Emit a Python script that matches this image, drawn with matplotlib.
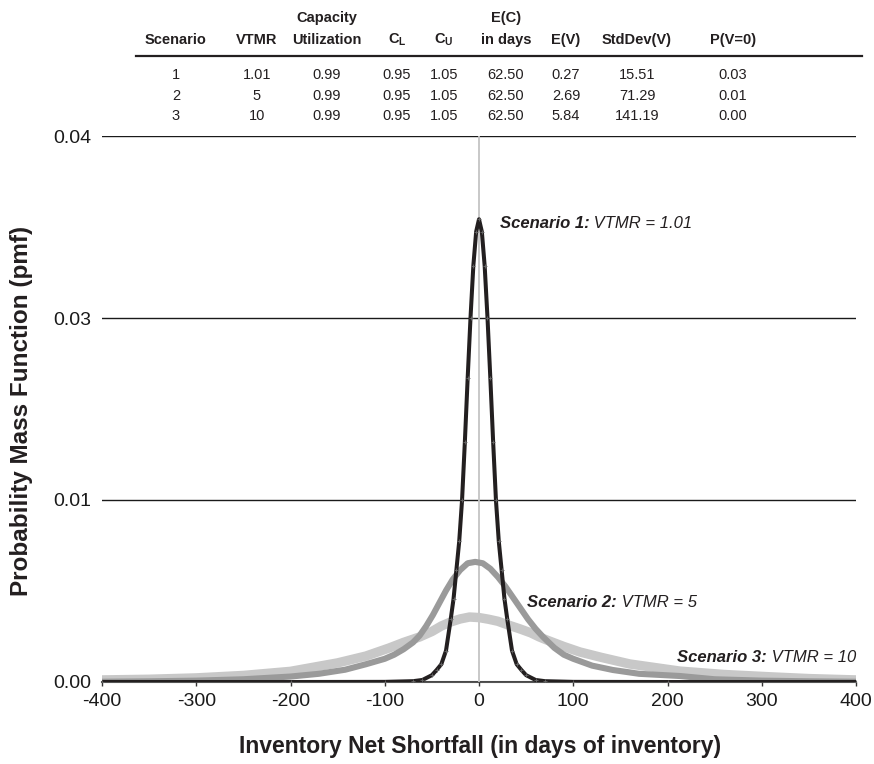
import matplotlib
matplotlib.use("Agg")
import matplotlib.pyplot as plt

plt.rcParams['font.family'] = ['Liberation Sans', 'DejaVu Sans']
plt.rcParams['mathtext.fontset'] = 'custom'
plt.rcParams['mathtext.rm'] = 'Liberation Sans'
plt.rcParams['mathtext.bf'] = 'Liberation Sans:bold'
plt.rcParams['axes.unicode_minus'] = False

# table above the chart
scenario = ['1', '2', '3']
vtmr = ['1.01', '5', '10']
utilization = ['0.99', '0.99', '0.99']
c_low = ['0.95', '0.95', '0.95']
c_up = ['1.05', '1.05', '1.05']
ec_days = ['62.50', '62.50', '62.50']
ev = ['0.27', '2.69', '5.84']
stdv = ['15.51', '71.29', '141.19']
pv0 = ['0.03', '0.01', '0.00']

# pmf curves (x in days, y = pmf)
x1 = [-400, -200, -100, -70, -60, -50, -45, -40, -35, -30, -27, -24, -21, -18, -15,
      -12, -9, -6, -3, 0, 3, 6, 9, 12, 15, 18, 21, 24, 27, 30, 35, 40, 45, 50, 60,
      70, 100, 200, 400]
y1 = [0.0, 0.0, 0.00001, 0.00006, 0.00015, 0.0005, 0.00088, 0.0013, 0.0023, 0.0046,
      0.0061, 0.0082, 0.0103, 0.0133, 0.0176, 0.0223, 0.0267, 0.0305, 0.0330, 0.0339,
      0.0330, 0.0305, 0.0267, 0.0223, 0.0176, 0.0133, 0.0103, 0.0082, 0.0061, 0.0046,
      0.0023, 0.0013, 0.00088, 0.0005, 0.00015, 0.00006, 0.00001, 0.0, 0.0]

x2 = [-400, -350, -300, -250, -200, -170, -142, -120, -100, -90, -80, -70, -63, -56,
      -49, -42, -35, -28, -20, -12, -4, 4, 12, 20, 28, 36, 44, 52, 60, 68, 80, 90,
      100, 120, 142, 170, 213, 250, 300, 350, 400]
y2 = [0.00002, 0.00005, 0.0001, 0.0002, 0.0004, 0.0006, 0.0009, 0.0013, 0.0017,
      0.0020, 0.0024, 0.0029, 0.0034, 0.0041, 0.0049, 0.0058, 0.0067, 0.0075, 0.0082,
      0.0087, 0.0088, 0.0087, 0.0083, 0.0077, 0.0070, 0.0062, 0.0054, 0.0046, 0.0039,
      0.0033, 0.0025, 0.0020, 0.0017, 0.0012, 0.00088, 0.0006, 0.00044, 0.0002,
      0.0001, 0.00005, 0.00002]

x3 = [-400, -350, -300, -250, -200, -150, -120, -95, -80, -63, -50, -40, -30, -20,
      -10, 0, 10, 20, 30, 43, 55, 64, 71, 90, 107, 130, 160, 213, 260, 309, 350, 400]
y3 = [0.00015, 0.0002, 0.0003, 0.00048, 0.00078, 0.0014, 0.0019, 0.0025, 0.0029,
      0.0033, 0.0037, 0.0041, 0.0044, 0.00462, 0.00476, 0.00472, 0.0046, 0.00445,
      0.0042, 0.0039, 0.0036, 0.0033, 0.0031, 0.0026, 0.0022, 0.0018, 0.00132,
      0.0008, 0.00055, 0.00038, 0.00025, 0.00015]

W, H = 874, 764
fig = plt.figure(figsize=(W / 100, H / 100), dpi=100)
ax = fig.add_axes([102 / W, 82 / H, 754 / W, 546 / H])

ax.axvline(0, color='#c4c4c4', lw=1.3, zorder=1)
ax.plot(x3, y3, color='#c8c8c8', lw=6.8, solid_capstyle='butt',
        solid_joinstyle='round', zorder=2)
ax.plot(x2, y2, color='#9a9a9a', lw=4.4, solid_capstyle='butt',
        solid_joinstyle='round', zorder=3)
ax.plot(x1, y1, color='#231f20', lw=2.9, solid_capstyle='butt',
        solid_joinstyle='round', zorder=4,
        marker='+', ms=2.5, mew=0.6, mec='#666666')

ax.set_xlim(-400, 400)
ax.set_ylim(0, 0.04)
ax.set_xticks(range(-400, 401, 100))
ax.set_yticks([0, 0.04 / 3, 0.08 / 3, 0.04])
ax.set_yticklabels(['0.00', '0.01', '0.03', '0.04'])
ax.yaxis.grid(True, color='#1a1a1a', lw=1.0)
ax.set_axisbelow(True)
for s in ['left', 'top', 'right']:
    ax.spines[s].set_visible(False)
ax.spines['bottom'].set_color('#555555')
ax.spines['bottom'].set_linewidth(1.5)
ax.spines['bottom'].set_zorder(0.5)
ax.tick_params(axis='y', length=0, pad=8, labelsize=14, labelcolor='#1a1a1a')
ax.tick_params(axis='x', length=3, width=1, color='#333333', direction='out',
               pad=5, labelsize=14, labelcolor='#1a1a1a')

# curve labels
def label(x, y, head, tail):
    t = ax.text(x, y, head, fontsize=12, fontweight='bold', style='italic',
                color='#231f20', va='center', ha='left')
    ax.annotate(tail, xy=(1, 0.5), xycoords=t, fontsize=12, style='italic',
                color='#231f20', va='center', ha='left')

label(22, 0.0336, 'Scenario 1:', ' VTMR = 1.01')
label(51, 0.0058, 'Scenario 2:', ' VTMR = 5')
label(210, 0.00183, 'Scenario 3:', ' VTMR = 10')

fig.text(480 / W, 1 - 747 / H, 'Inventory Net Shortfall (in days of inventory)',
         fontsize=16.5, fontweight='bold', color='#231f20', ha='center', va='center')
fig.text(22 / W, 1 - 411 / H, 'Probability Mass Function (pmf)', rotation=90,
         fontsize=17.5, fontweight='bold', color='#231f20', ha='center', va='center')

# table
col_x = [176, 257, 327, 397, 444, 506, 566, 637, 733]
head1 = ['', '', 'Capacity', '', '', 'E(C)', '', '', '']
head2 = ['Scenario', 'VTMR', 'Utilization', r'C$_\mathregular{L}$', r'C$_\mathregular{U}$',
         'in days', 'E(V)', 'StdDev(V)', 'P(V=0)']
cols = [scenario, vtmr, utilization, c_low, c_up, ec_days, ev, stdv, pv0]
for cx, h1, h2, col in zip(col_x, head1, head2, cols):
    if h1:
        fig.text(cx / W, 1 - 18 / H, h1, fontsize=10.5, fontweight='bold',
                 color='#231f20', ha='center', va='center')
    fig.text(cx / W, 1 - 40 / H, h2, fontsize=10.5, fontweight='bold',
             color='#231f20', ha='center', va='center')
    for i, v in enumerate(col):
        fig.text(cx / W, 1 - (75 + 20.5 * i) / H, v, fontsize=10.5,
                 color='#231f20', ha='center', va='center')
fig.add_artist(plt.Line2D([136 / W, 862 / W], [1 - 56 / H, 1 - 56 / H],
                          color='#231f20', lw=1.6))

fig.savefig('out.png', dpi=100)
